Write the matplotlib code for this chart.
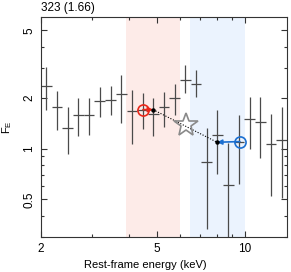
import numpy as np
import matplotlib
matplotlib.use("Agg")
import matplotlib.pyplot as plt
from matplotlib.ticker import FixedLocator, NullFormatter

plt.rcParams['font.family'] = ['Liberation Sans', 'DejaVu Sans']

# spectral bins (rest-frame keV), edges
bin_edges = [2.000, 2.176, 2.368, 2.576, 2.803, 3.049, 3.318, 3.610, 3.927,
             4.273, 4.649, 5.058, 5.503, 5.987, 6.514, 7.088, 7.711, 8.390,
             9.129, 9.932, 10.81, 11.76, 12.79, 13.92]
flux = [2.36, 1.75, 1.33, 1.59, 1.59, 1.90, 1.95, 2.09, 1.66, 1.70, 1.61, 1.75,
        2.00, 2.53, 2.42, 0.838, 1.21, 0.612, 1.10, 1.50, 1.44, 1.07, 1.13]
flux_hi = [3.02, 2.20, 1.75, 1.98, 1.98, 2.30, 2.33, 2.74, 2.23, 2.12, 2.00, 2.17,
           2.42, 3.10, 2.93, 1.33, 1.70, 1.085, 1.59, 2.03, 2.03, 1.61, 1.75]
flux_lo = [1.70, 1.28, 0.934, 1.18, 1.21, 1.53, 1.57, 1.41, 1.07, 1.31, 1.19, 1.35,
           1.57, 2.14, 2.03, 0.336, 0.711, 0.20, 0.621, 1.00, 0.884, 0.527, 0.513]

soft_band = [3.9, 6.0]
hard_band = [6.5, 10.0]
soft_obs = [4.47, 1.70]
soft_rest = [4.84, 1.70]
hard_obs = [9.60, 1.10]
hard_rest = [8.02, 1.09]
star = [6.28, 1.37]

edges = np.array(bin_edges)
e_mid = np.sqrt(edges[:-1] * edges[1:])
xerr = [e_mid - edges[:-1], edges[1:] - e_mid]
f = np.array(flux)
yerr = [f - np.array(flux_lo), np.array(flux_hi) - f]

fig = plt.figure(figsize=(2.91, 2.72), dpi=100)
ax = fig.add_axes([41/291, 35/272, 246/291, 220/272])
ax.set_xscale('log')
ax.set_yscale('log')
ax.set_xlim(2.0, 13.92)
ax.set_ylim(0.3, 6.0)

ax.axvspan(*soft_band, color='#fdebe8', lw=0, zorder=0)
ax.axvspan(*hard_band, color='#ebf3fe', lw=0, zorder=0)

ax.errorbar(e_mid, f, xerr=xerr, yerr=yerr, fmt='none', ecolor='#4a4a4a',
            elinewidth=0.9, capsize=0, zorder=2)

ax.plot([soft_rest[0], hard_rest[0]], [soft_rest[1], hard_rest[1]], color='k',
        lw=0.8, ls=(0, (1, 1.5)), zorder=3)
ax.plot(*star, marker='*', ms=18, mfc='none', mec='#8a8a8a', mew=1.2, zorder=4)

ax.annotate('', xy=soft_rest, xytext=soft_obs,
            arrowprops=dict(arrowstyle='-|>', color='#e8271a', lw=1.2,
                            mutation_scale=7, shrinkA=0, shrinkB=0), zorder=5)
ax.annotate('', xy=hard_rest, xytext=hard_obs,
            arrowprops=dict(arrowstyle='-|>', color='#1b6fd1', lw=1.2,
                            mutation_scale=7, shrinkA=0, shrinkB=0), zorder=5)
ax.plot(*soft_obs, 'o', ms=8, mfc='none', mec='#e8271a', mew=1.2, zorder=6)
ax.plot(*hard_obs, 'o', ms=8, mfc='none', mec='#1b6fd1', mew=1.2, zorder=6)
ax.plot([soft_rest[0], hard_rest[0]], [soft_rest[1], hard_rest[1]], 'o',
        color='k', ms=2.2, zorder=6)

ax.xaxis.set_major_locator(FixedLocator([2, 5, 10]))
ax.xaxis.set_minor_locator(FixedLocator([3, 4, 6, 7, 8, 9]))
ax.set_xticklabels(['2', '5', '10'])
ax.xaxis.set_minor_formatter(NullFormatter())
ax.yaxis.set_major_locator(FixedLocator([0.5, 1, 2, 5]))
ax.yaxis.set_minor_locator(FixedLocator([0.3, 0.4, 0.6, 0.7, 0.8, 0.9, 3, 4]))
ax.set_yticklabels(['0.5', '1', '2', '5'], rotation=90, va='center')
ax.yaxis.set_minor_formatter(NullFormatter())

ax.tick_params(which='both', direction='in', top=True, right=True,
               color='#333333', labelsize=8.5, width=0.8)
ax.tick_params(which='major', length=4, pad=4)
ax.tick_params(which='minor', length=2.5)
for s in ax.spines.values():
    s.set_color('#333333')
    s.set_linewidth(0.8)

ax.set_xlabel('Rest-frame energy (keV)', fontsize=8, va='center')
ax.xaxis.set_label_coords(0.423, -0.127)
ax.set_ylabel(r'F$_{\mathregular{E}}$', fontsize=8, labelpad=7)
ax.set_title('323 (1.66)', fontsize=8.5, loc='left', pad=4)

fig.savefig('out.png', dpi=100)
